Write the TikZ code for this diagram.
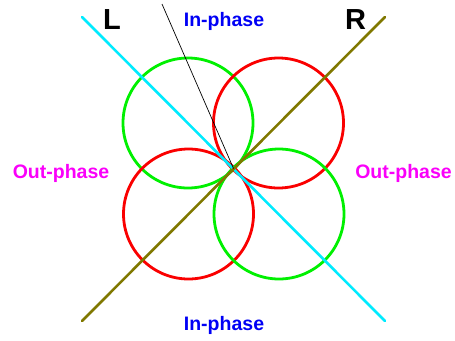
\documentclass[tikz,border=0pt]{standalone}
\usepackage{fontspec}
\setmainfont{Liberation Sans}
\definecolor{cgreen}{RGB}{0,240,0}
\definecolor{cred}{RGB}{250,0,0}
\definecolor{ccyan}{RGB}{0,235,255}
\definecolor{colive}{RGB}{128,120,0}
\definecolor{cblue}{RGB}{0,0,245}
\definecolor{cmag}{RGB}{250,0,250}
\begin{document}
\begin{tikzpicture}[x=1pt,y=-1pt,
  ring/.style={line width=2.8pt},
  axis/.style={line width=2.6pt,line cap=round},
  phaselbl/.style={font=\fontsize{19.5}{22}\selectfont\bfseries,inner sep=0pt},
  chanlbl/.style={font=\fontsize{29}{32}\selectfont\bfseries,inner sep=0pt}]
\useasboundingbox (0,0) rectangle (455,340);
\coordinate (O) at (233.5,168.5);
% circles
\draw[ring,cgreen] (188,123) circle (65);
\draw[ring,cred] (278.5,123) circle (65);
\draw[ring,cred] (188.5,214) circle (65);
\draw[ring,cgreen] (279,214) circle (65);
% axes
\coordinate (Ltop) at (82,17);
\coordinate (Lbot) at (385,321);
\coordinate (Rtop) at (385,17);
\coordinate (Rbot) at (82,321);
\draw[axis,ccyan] (Ltop) -- (Lbot);
\draw[axis,colive] (Rbot) -- (Rtop);
\coordinate (P) at (162,4);
\draw[line width=0.7pt] (P) -- (O);
% labels
\node[chanlbl] (L) at (112,20) {L};
\node[chanlbl] (R) at (355.5,20) {R};
\node[phaselbl,text=cblue] (inT) at (224,21) {In-phase};
\node[phaselbl,text=cblue] (inB) at (224,325) {In-phase};
\node[phaselbl,text=cmag] (outL) at (61,173) {Out-phase};
\node[phaselbl,text=cmag] (outR) at (403.5,173) {Out-phase};
\end{tikzpicture}
\end{document}
